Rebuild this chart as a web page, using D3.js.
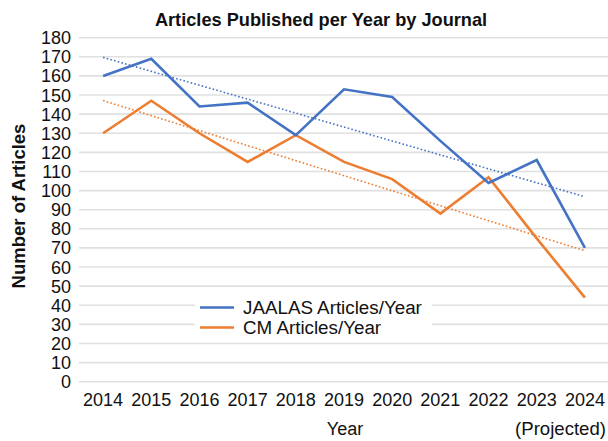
<!DOCTYPE html>
<html>
<head>
<meta charset="utf-8">
<script src="https://cdn.jsdelivr.net/npm/d3@7/dist/d3.min.js"></script>
<style>
  html, body { margin: 0; padding: 0; background: #fff; }
  svg { display: block; font-family: "Liberation Sans", Arial, Helvetica, sans-serif; }
</style>
</head>
<body>
<svg id="chart" width="608" height="441"></svg>
<script>
const years = ["2014","2015","2016","2017","2018","2019","2020","2021","2022","2023","2024"];
const jaalas = [160, 169, 144, 146, 129, 153, 149, 126, 104, 116, 70];
const cm = [130, 147, 130, 115, 129, 115, 106, 88, 107, 75, 44];
// trendline end values (first year, last year)
const jaalasTrend = [169.7, 96.8];
const cmTrend = [147.1, 68.5];
const yTicks = [0,10,20,30,40,50,60,70,80,90,100,110,120,130,140,150,160,170,180];
const seriesNames = ["JAALAS Articles/Year", "CM Articles/Year"];
const colors = ["#4472C4", "#ED7D31"];

const svg = d3.select("#chart");
const x = d3.scalePoint().domain(years).range([79, 609]).padding(0.5);
const y = d3.scaleLinear().domain([0, 180]).range([381.7, 37.7]);

// gridlines
svg.append("g").selectAll("line").data(yTicks).join("line")
  .attr("x1", 79).attr("x2", 608)
  .attr("y1", d => y(d)).attr("y2", d => y(d))
  .attr("stroke", "#e0e0e0").attr("stroke-width", 1.6);

// y tick labels
svg.append("g").selectAll("text").data(yTicks).join("text")
  .attr("x", 71).attr("y", d => y(d)).attr("dy", "0.36em")
  .attr("text-anchor", "end").attr("font-size", 18).attr("fill", "#111")
  .text(d => d);

// x tick labels
svg.append("g").selectAll("text").data(years).join("text")
  .attr("x", d => x(d)).attr("y", 406)
  .attr("text-anchor", "middle").attr("font-size", 18).attr("fill", "#111")
  .text(d => d);

// title
svg.append("text").attr("x", 321).attr("y", 26).attr("text-anchor", "middle")
  .attr("font-size", 18.2).attr("font-weight", "bold").attr("fill", "#111")
  .text("Articles Published per Year by Journal");

// y axis title
svg.append("text").attr("transform", "translate(25,206) rotate(-90)")
  .attr("text-anchor", "middle").attr("font-size", 18.5).attr("font-weight", "bold").attr("fill", "#111")
  .text("Number of Articles");

// x axis title
svg.append("text").attr("x", 345).attr("y", 435).attr("text-anchor", "middle")
  .attr("font-size", 18).attr("fill", "#111").text("Year");
svg.append("text").attr("x", 606).attr("y", 435).attr("text-anchor", "end")
  .attr("font-size", 18.6).attr("fill", "#111").text("(Projected)");

// legend
const lg = svg.append("g");
lg.append("rect").attr("x", 195).attr("y", 296).attr("width", 237).attr("height", 42).attr("fill", "#fff");
seriesNames.forEach((name, i) => {
  const ly = 307.5 + i * 20;
  lg.append("line").attr("x1", 200).attr("x2", 234).attr("y1", ly).attr("y2", ly)
    .attr("stroke", colors[i]).attr("stroke-width", 2.5);
  lg.append("text").attr("x", 243).attr("y", ly).attr("dy", "0.36em")
    .attr("font-size", 18.8).attr("fill", "#111").text(name);
});

// trendlines
const trends = [jaalasTrend, cmTrend];
trends.forEach((t, i) => {
  svg.append("line")
    .attr("x1", x(years[0])).attr("y1", y(t[0]))
    .attr("x2", x(years[years.length - 1])).attr("y2", y(t[1]))
    .attr("stroke", colors[i]).attr("stroke-width", 1.6)
    .attr("stroke-dasharray", "1.6,2.2");
});

// series lines
const line = d3.line().x((d, i) => x(years[i])).y(d => y(d));
[cm, jaalas].forEach((s, k) => {
  const i = k === 0 ? 1 : 0;
  svg.append("path").datum(s).attr("d", line)
    .attr("fill", "none").attr("stroke", colors[i]).attr("stroke-width", 2.6)
    .attr("stroke-linejoin", "miter");
});
</script>
</body>
</html>
